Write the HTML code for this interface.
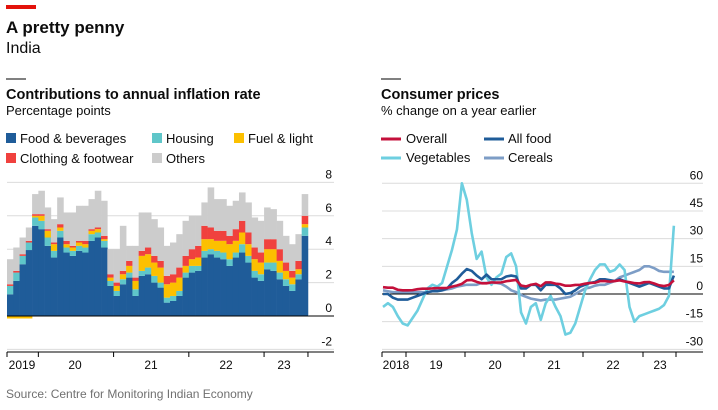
<!DOCTYPE html>
<html><head><meta charset="utf-8"><style>
body{margin:0;background:#fff;font-family:"Liberation Sans",sans-serif;}
svg text{font-family:"Liberation Sans",sans-serif;}
</style></head><body>
<svg id="c" width="718" height="405" xmlns="http://www.w3.org/2000/svg">
<rect x="6" y="5" width="30" height="4" fill="#e3120b"/>
<text x="6" y="33" font-size="17" font-weight="bold" fill="#0c0c0c">A pretty penny</text>
<text x="6" y="53" font-size="16" fill="#0c0c0c">India</text>
<line x1="6" y1="79" x2="26" y2="79" stroke="#000"/>
<text x="6" y="99" font-size="14.5" font-weight="bold" fill="#0c0c0c">Contributions to annual inflation rate</text>
<text x="6" y="115" font-size="13" fill="#0c0c0c">Percentage points</text>
<g font-size="13" fill="#0c0c0c">
<rect x="6" y="133" width="10" height="10" fill="#1f5c99"/><text x="20" y="143">Food &amp; beverages</text>
<rect x="152" y="133" width="10" height="10" fill="#5fc6c9"/><text x="166" y="143">Housing</text>
<rect x="234" y="133" width="10" height="10" fill="#fcc000"/><text x="248" y="143">Fuel &amp; light</text>
<rect x="6" y="153" width="10" height="10" fill="#f0413e"/><text x="20" y="163">Clothing &amp; footwear</text>
<rect x="152" y="153" width="10" height="10" fill="#cccccc"/><text x="166" y="163">Others</text>
</g>
<line x1="381" y1="79" x2="401" y2="79" stroke="#000"/>
<text x="381" y="99" font-size="14.5" font-weight="bold" fill="#0c0c0c">Consumer prices</text>
<text x="381" y="115" font-size="13" fill="#0c0c0c">% change on a year earlier</text>
<g font-size="13" fill="#0c0c0c">
<line x1="381" y1="139" x2="401" y2="139" stroke="#c4103b" stroke-width="3"/><text x="406" y="143">Overall</text>
<line x1="484" y1="139" x2="504" y2="139" stroke="#1f5c99" stroke-width="3"/><text x="508" y="143">All food</text>
<line x1="381" y1="158" x2="401" y2="158" stroke="#6ecfe0" stroke-width="3"/><text x="406" y="162">Vegetables</text>
<line x1="484" y1="158" x2="504" y2="158" stroke="#7d9dc6" stroke-width="3"/><text x="508" y="162">Cereals</text>
</g>
<g id="left"></g>
<g id="right"></g>
<text x="6" y="398" font-size="12" fill="#707070">Source: Centre for Monitoring Indian Economy</text>
</svg>
<script>
const food=[1.3,2.1,3.1,3.95,5.4,5.2,4.2,3.5,4.7,3.8,3.6,3.9,3.8,4.5,4.7,4.1,1.8,1.2,1.9,2.3,1.2,2.4,2.5,2.0,1.7,0.8,0.9,1.2,2.3,2.6,2.7,3.5,3.7,3.5,3.4,3.0,3.5,3.8,3.2,2.3,2.1,2.8,2.7,2.2,1.8,1.5,2.2,4.8];
const housing=[.5,.5,.5,.45,.5,.5,.5,.4,.4,.3,.3,.3,.3,.4,.3,.4,.3,.3,.3,.3,.4,.3,.4,.4,.3,.3,.3,.3,.3,.4,.3,.4,.3,.4,.4,.4,.3,.5,.4,.4,.4,.4,.5,.4,.4,.4,.3,.5];
const fuel=[-0.15,-0.15,-0.15,-0.15,.1,.3,.4,.4,.2,.2,.2,.2,.2,.2,.2,.1,.2,.3,.3,.4,.5,.9,.8,.8,.9,.8,.8,.8,.4,.4,.5,.7,.6,.6,.7,.9,.7,.7,.7,.7,.7,.8,.8,.7,.5,.4,.3,.2];
const clothing=[.1,.1,.1,.1,.1,.1,.1,.1,.2,.2,.1,.1,.2,.1,.1,.2,.2,.2,.2,.3,.2,.3,.4,.4,.4,.5,.5,.6,.6,.6,.7,.8,.7,.6,.6,.5,.7,.7,.7,.7,.6,.6,.6,.7,.5,.4,.5,.5];
const others=[1.5,1.4,1.0,.8,1.2,1.4,1.3,1.4,1.6,1.7,2.0,2.1,2.1,1.8,2.2,2.1,1.5,2.0,2.7,.9,1.9,2.3,2.1,2.2,2.0,1.8,1.9,2.0,2.1,2.0,1.8,1.4,2.4,1.9,1.9,1.8,1.7,1.7,1.8,1.8,1.9,1.9,1.8,1.7,1.6,1.6,1.6,1.3];
const leftTicks=[8,6,4,2,0,-2];
const leftYears=["2019","20","21","22","23"];

const overall=[3.7,3.4,3.4,2.3,2,2,2.1,2.6,2.9,2.9,3.0,3.2,3.2,3.3,4.0,4.6,5.5,7.4,7.6,6.6,5.8,5.8,6.3,6.2,6.3,6.9,7.3,7.6,4.6,4.1,5.0,5.5,4.2,6.3,6.3,5.6,5.3,4.5,4.5,4.9,5.0,5.6,6.0,6.1,7.0,7.0,6.7,7.0,7.4,6.8,6.4,5.9,5.7,6.4,6.5,5.7,4.7,4.3,4.9,7.4];
const allFood=[0,0,-2,-3,-3,-3,-2,-1,0,1,1.5,1.5,2,3,6,8,11,13.5,12.5,10,8,10.5,8,8,8,9.5,10,9.5,3,3,5,5,2,5,5,5,3,0,0.5,2,4,5,6,6.5,8,8,7.5,7,8,7,6,5,4,5,6,5,4,3,3,10];
const vegetables=[-7,-5,-7,-12,-16,-17,-13,-9,-3,3,5,4,6,15,24,35,60,51,33,19,23,9,5,9,11,20,22,15,-10,-16,-7,-5,-14,-5,-1,-7,-12,-22,-21,-16,-7,2,8,13,16,16,12,13,16,13,-7,-15,-12,-11,-10,-9,-8,-6,-1,37];
const cereals=[2,1.5,1,1,1,1,1,1,1,1,1.5,2,2,2.5,3,4,4.5,5,5,5,6,6,6,6,5.5,4,2,1,-0.5,-1.5,-2.5,-3,-3.5,-3,-3,-3,-2.5,-2,-1.5,0,1.5,3,3.5,4.5,5,5,6,7,9,10,11,12,13,15,15,14,12.5,12,12,12];
const rightTicks=[60,45,30,15,0,-15,-30];
const rightYears=["2018","19","20","21","22","23"];

const NS="http://www.w3.org/2000/svg";
function mk(p,t,a){const e=document.createElementNS(NS,t);for(const k in a)e.setAttribute(k,a[k]);p.appendChild(e);return e;}

// LEFT
const L=document.getElementById('left');
const lx0=7,bw=6.27,ly=v=>316-v*16.7;
leftTicks.forEach(t=>{
  const g=mk(L,'line',{x1:7,x2:334,y1:ly(t),y2:ly(t),stroke:t===0?'#000':'#dcdcdc','stroke-width':1});
  
  
  const tx=mk(L,'text',{x:332,y:ly(t)-4,'font-size':12,'text-anchor':'end',fill:'#0c0c0c'});tx.textContent=t;
  
  
});
const series=[[food,'#1f5c99'],[housing,'#5fc6c9'],[fuel,'#fcc000'],[clothing,'#f0413e'],[others,'#cccccc']];
food.forEach((_,i)=>{
  let pos=0,neg=0;
  series.forEach(([arr,col])=>{
    const v=arr[i];let y0,y1;
    if(v>=0){y0=pos;y1=pos+v;pos=y1;}else{y0=neg+v;y1=neg;neg=y0;}
    const r=mk(L,'rect',{x:lx0+i*bw,y:ly(y1),width:bw+0.3,height:Math.max(0,ly(y0)-ly(y1)),fill:col});
    
    
  });
});
mk(L,'line',{x1:7,x2:308,y1:316,y2:316,stroke:'#000','stroke-width':1});
mk(L,'line',{x1:7,x2:334,y1:352,y2:352,stroke:'#000','stroke-width':1});
const lticks=[0,5,17,29,41,48];
lticks.forEach(m=>mk(L,'line',{x1:lx0+m*bw,x2:lx0+m*bw,y1:352,y2:357,stroke:'#000'}));
const lpos=[22,75,151,226,284];
leftYears.forEach((s,i)=>{const t=mk(L,'text',{x:lpos[i],y:369,'font-size':12,'text-anchor':'middle',fill:'#0c0c0c'});t.textContent=s;
  
  });

// RIGHT
const R=document.getElementById('right');
const rx=i=>383+i*4.93,ry=v=>294-v*1.845;
rightTicks.forEach(t=>{
  const g=mk(R,'line',{x1:382,x2:703,y1:ry(t),y2:ry(t),stroke:t===0?'#000':'#dcdcdc','stroke-width':1});
  
  
  const tx=mk(R,'text',{x:703,y:ry(t)-4,'font-size':12,'text-anchor':'end',fill:'#0c0c0c'});tx.textContent=t;
  
  
});
[[cereals,'#7d9dc6','cereals-line'],[vegetables,'#6ecfe0','vegetables-line'],[allFood,'#1f5c99','all-food-line'],[overall,'#c4103b','overall-line']].forEach(([arr,col,nm])=>{
  const p=mk(R,'polyline',{points:arr.map((v,i)=>rx(i)+','+ry(v)).join(' '),fill:'none',stroke:col,'stroke-width':2.6,'stroke-linejoin':'round'});
  
  
});
mk(R,'line',{x1:382,x2:703,y1:352,y2:352,stroke:'#000','stroke-width':1});
[382,406,465,524,583,643,676].forEach(x=>mk(R,'line',{x1:x,x2:x,y1:352,y2:357,stroke:'#000'}));
const rpos=[396,436,495,554,613,660];
rightYears.forEach((s,i)=>{const t=mk(R,'text',{x:rpos[i],y:369,'font-size':12,'text-anchor':'middle',fill:'#0c0c0c'});t.textContent=s;
  
  });
</script>
</body></html>
